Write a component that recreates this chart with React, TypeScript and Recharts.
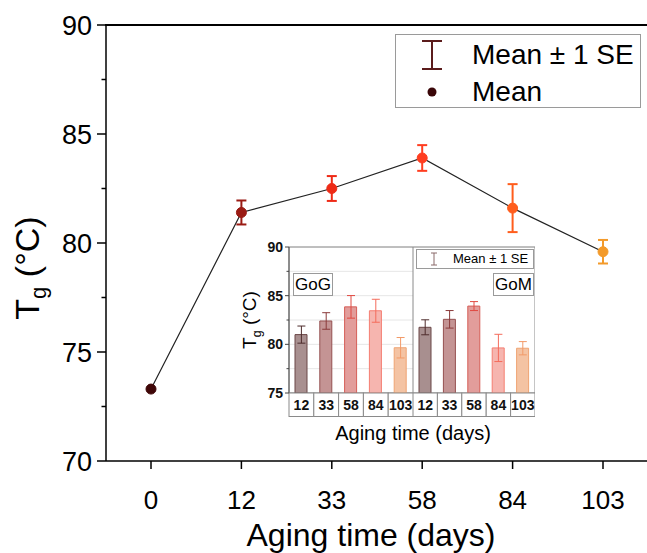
import React from "react"
import {
  ComposedChart,
  Line,
  Bar,
  Cell,
  XAxis,
  YAxis,
  CartesianGrid,
  ErrorBar,
  ReferenceArea,
} from "recharts"

const FONT = '"Liberation Sans", Arial, Helvetica, sans-serif'

// main panel
const agingDays = ["0", "12", "33", "58", "84", "103"]
const tgMean = [73.3, 81.4, 82.5, 83.9, 81.6, 79.6]
const tgSE = [0, 0.55, 0.57, 0.59, 1.1, 0.54]
const mainYTicks = [70, 72.5, 75, 77.5, 80, 82.5, 85, 87.5, 90]
const pointColors = ["#3f0607", "#9a1b14", "#ee2a16", "#ff3d20", "#ff5d1c", "#f39a2a"]

// inset
const insetDays = ["12", "33", "58", "84", "103"]
const gogMean = [81.0, 82.4, 83.85, 83.45, 79.65]
const gogSE = [0.88, 0.85, 1.16, 1.18, 1.05]
const gomMean = [81.75, 82.57, 83.93, 79.63, 79.6]
const gomSE = [0.77, 0.9, 0.46, 1.4, 0.68]
const insetYTicks = [75, 77.5, 80, 82.5, 85, 87.5, 90]
const barFills = ["#a88f8f", "#c49494", "#e29d9b", "#f6b5af", "#f4c3a3"]
const barEdges = ["#6a4646", "#955050", "#d65e58", "#f47e72", "#efa473"]
const errColors = ["#4e2c2c", "#8a3a3a", "#e04a42", "#f46c5c", "#f29a68"]

const mainRows = agingDays.map((day, i) => {
  const row: any = { day, mean: tgMean[i] }
  row["m" + i] = tgMean[i]
  row["e" + i] = tgSE[i]
  return row
})

const buildInset = (means: number[], ses: number[]) =>
  insetDays.map((day, i) => {
    const row: any = { day, mean: means[i] }
    row["m" + i] = means[i]
    row["e" + i] = ses[i]
    return row
  })

const gogRows = buildInset(gogMean, gogSE)
const gomRows = buildInset(gomMean, gomSE)

const MainYTick = ({ x, y, payload }: any) => {
  const major = payload.value % 5 === 0
  return (
    <g>
      <line x1={x - (major ? 9 : 4.5)} x2={x} y1={y} y2={y} stroke="#000" strokeWidth={1.5} />
      {major && (
        <text x={x - 14} y={y} dy="0.36em" textAnchor="end" fontSize={27} fontFamily={FONT} fill="#000">
          {payload.value}
        </text>
      )}
    </g>
  )
}

const InsetYTick = ({ x, y, payload }: any) => {
  const major = payload.value % 5 === 0
  return (
    <g>
      <line x1={x - (major ? 4 : 2.5)} x2={x} y1={y} y2={y} stroke="#444" strokeWidth={1} />
      {major && (
        <text x={x - 6} y={y} dy="0.36em" textAnchor="end" fontSize={14} fontWeight="bold" fontFamily={FONT} fill="#111">
          {payload.value}
        </text>
      )}
    </g>
  )
}

const CellTick = ({ x, y, payload, width, visibleTicksCount }: any) => {
  const w = width && visibleTicksCount ? width / visibleTicksCount : 24.6
  return (
    <g>
      <rect x={x - w / 2} y={y} width={w} height={23.5} fill="#fff" stroke="#8a8a8a" strokeWidth={1} />
      <text x={x} y={y + 12} dy="0.36em" textAnchor="middle" fontSize={14} fontWeight="bold" fontFamily={FONT} fill="#111">
        {payload.value}
      </text>
    </g>
  )
}

function InsetPanel({ rows, showAxis, width }: { rows: any[]; showAxis: boolean; width: number }) {
  return (
    <ComposedChart width={width} height={180} data={rows} margin={{ top: 10, right: 0, bottom: 0, left: 0 }}>
      <CartesianGrid vertical={false} stroke="#e6e6e6" />
      <XAxis dataKey="day" height={24} tickSize={0} tickMargin={0} tick={<CellTick />} axisLine={false} interval={0} />
      <YAxis
        type="number"
        domain={[75, 90]}
        ticks={insetYTicks}
        allowDataOverflow
        width={showAxis ? 49 : 0}
        tickSize={0}
        tickMargin={0}
        tick={showAxis ? <InsetYTick /> : false}
        tickLine={false}
        axisLine={{ stroke: "#555", strokeWidth: 1 }}
        interval={0}
      />
      <ReferenceArea y1={75} y2={90} fill="none" stroke="#8a8a8a" strokeWidth={1} ifOverflow="visible" />
      <Bar dataKey="mean" barSize={12} isAnimationActive={false}>
        {rows.map((_, i) => (
          <Cell key={`bar-${i}`} fill={barFills[i]} stroke={barEdges[i]} strokeWidth={1} />
        ))}
      </Bar>
      {rows.map((_, i) => (
        <Line
          key={`err-${i}`}
          dataKey={"m" + i}
          stroke="none"
          dot={false}
          activeDot={false}
          isAnimationActive={false}
        >
          <ErrorBar dataKey={"e" + i} width={4} stroke={errColors[i]} strokeWidth={1} direction="y" />
        </Line>
      ))}
    </ComposedChart>
  )
}

export default function App() {
  return (
    <div
      style={{
        position: "fixed",
        left: 0,
        top: 0,
        width: 647,
        height: 553,
        overflow: "hidden",
        background: "#fff",
        fontFamily: FONT,
        color: "#000",
      }}
    >
      <ComposedChart width={660} height={553} data={mainRows} margin={{ top: 25, right: 12, bottom: 0, left: 0 }}>
        <XAxis
          dataKey="day"
          padding={{ left: 45, right: 45 }}
          height={92}
          tickSize={8}
          tickMargin={22}
          interval={0}
          tick={{ fontSize: 26, fill: "#000", fontFamily: FONT }}
          axisLine={{ stroke: "#000", strokeWidth: 1.5 }}
          tickLine={{ stroke: "#000", strokeWidth: 1.5 }}
        />
        <YAxis
          type="number"
          domain={[70, 90]}
          ticks={mainYTicks}
          allowDataOverflow
          width={106}
          tickSize={0}
          tickMargin={0}
          interval={0}
          tick={<MainYTick />}
          tickLine={false}
          axisLine={{ stroke: "#000", strokeWidth: 1.5 }}
        />
        <Line dataKey="mean" stroke="#222" strokeWidth={1.2} dot={false} activeDot={false} isAnimationActive={false} />
        {pointColors.map((c, i) => (
          <Line
            key={`pt-${i}`}
            dataKey={"m" + i}
            stroke="none"
            dot={{ r: 5, fill: c, stroke: c, strokeWidth: 1 }}
            activeDot={false}
            isAnimationActive={false}
          >
            <ErrorBar dataKey={"e" + i} width={5} stroke={c} strokeWidth={2} direction="y" />
          </Line>
        ))}
      </ComposedChart>

      {/* top edge of the plot frame */}
      <div style={{ position: "absolute", left: 105, top: 24.25, width: 542, height: 1.5, background: "#000" }} />

      {/* axis titles */}
      <div
        style={{
          position: "absolute",
          left: 371,
          top: 535,
          transform: "translate(-50%, -50%)",
          fontSize: 32,
          whiteSpace: "nowrap",
          lineHeight: 1,
        }}
      >
        Aging time (days)
      </div>
      <div
        style={{
          position: "absolute",
          left: 30,
          top: 268,
          transform: "translate(-50%, -50%) rotate(-90deg)",
          fontSize: 34,
          whiteSpace: "nowrap",
          lineHeight: 1,
        }}
      >
        T<sub style={{ fontSize: "0.65em" }}>g</sub> (°C)
      </div>

      {/* main legend */}
      <div
        style={{
          position: "absolute",
          left: 395,
          top: 34,
          width: 246,
          height: 74,
          border: "1px solid #9a9a9a",
          boxSizing: "border-box",
          background: "#fff",
          fontSize: 28,
          lineHeight: 1,
        }}
      >
        <svg width={30} height={74} style={{ position: "absolute", left: 21, top: 0 }}>
          <line x1={15} x2={15} y1={6} y2={34} stroke="#5b1c1c" strokeWidth={2} />
          <line x1={5} x2={25} y1={6} y2={6} stroke="#5b1c1c" strokeWidth={2} />
          <line x1={5} x2={25} y1={34} y2={34} stroke="#5b1c1c" strokeWidth={2} />
          <circle cx={15} cy={57} r={4.5} fill="#3a0608" />
        </svg>
        <div style={{ position: "absolute", left: 76, top: 6, whiteSpace: "nowrap" }}>Mean ± 1 SE</div>
        <div style={{ position: "absolute", left: 76, top: 43, whiteSpace: "nowrap" }}>Mean</div>
      </div>

      {/* inset */}
      <div style={{ position: "absolute", left: 240, top: 237 }}>
        <InsetPanel rows={gogRows} showAxis width={173} />
      </div>
      <div style={{ position: "absolute", left: 413, top: 237 }}>
        <InsetPanel rows={gomRows} showAxis={false} width={122} />
      </div>
      <div
        style={{
          position: "absolute",
          left: 252,
          top: 320,
          transform: "translate(-50%, -50%) rotate(-90deg)",
          fontSize: 19,
          whiteSpace: "nowrap",
          lineHeight: 1,
        }}
      >
        T<sub style={{ fontSize: "0.65em" }}>g</sub> (°C)
      </div>
      <div
        style={{
          position: "absolute",
          left: 413,
          top: 433,
          transform: "translate(-50%, -50%)",
          fontSize: 20,
          whiteSpace: "nowrap",
          lineHeight: 1,
        }}
      >
        Aging time (days)
      </div>
      <div
        style={{
          position: "absolute",
          left: 293,
          top: 273,
          width: 40,
          height: 23,
          border: "1px solid #9a9a9a",
          boxSizing: "border-box",
          background: "#fff",
          fontSize: 17,
          lineHeight: "21px",
          textAlign: "center",
        }}
      >
        GoG
      </div>
      <div
        style={{
          position: "absolute",
          left: 493,
          top: 273,
          width: 41,
          height: 23,
          border: "1px solid #9a9a9a",
          boxSizing: "border-box",
          background: "#fff",
          fontSize: 17,
          lineHeight: "21px",
          textAlign: "center",
        }}
      >
        GoM
      </div>
      <div
        style={{
          position: "absolute",
          left: 416,
          top: 249,
          width: 118,
          height: 20,
          border: "1px solid #9a9a9a",
          boxSizing: "border-box",
          background: "#fff",
          fontSize: 13,
          lineHeight: "18px",
        }}
      >
        <svg width={12} height={18} style={{ position: "absolute", left: 11, top: 0 }}>
          <line x1={6} x2={6} y1={3} y2={15} stroke="#8a6a6a" strokeWidth={1} />
          <line x1={3} x2={9} y1={3} y2={3} stroke="#8a6a6a" strokeWidth={1} />
          <line x1={3} x2={9} y1={15} y2={15} stroke="#8a6a6a" strokeWidth={1} />
        </svg>
        <div style={{ position: "absolute", left: 36, top: 0, whiteSpace: "nowrap" }}>Mean ± 1 SE</div>
      </div>
    </div>
  )
}
